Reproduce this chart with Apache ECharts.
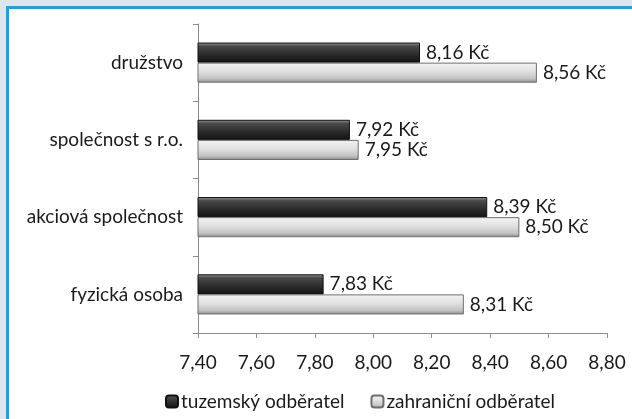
<!DOCTYPE html>
<html>
<head>
<meta charset="utf-8">
<script src="https://cdn.jsdelivr.net/npm/echarts@6/dist/echarts.min.js"></script>
<style>
  html, body { margin: 0; padding: 0; background: #dce6ec; }
  .frame {
    position: absolute; left: 6px; top: 6px; right: 0; bottom: 0;
    border-left: 3px solid #14a5e6; border-top: 3px solid #14a5e6;
    background: #fff;
  }
  #chart { position: absolute; left: 0; top: 0; width: 632px; height: 419px; }
</style>
</head>
<body>
<div class="frame"></div>
<div id="chart"></div>
<script>
// kategorie shora dolu
const categories = ['družstvo', 'společnost s r.o.', 'akciová společnost', 'fyzická osoba'];
const seriesNames = ['tuzemský odběratel', 'zahraniční odběratel'];
const domesticValues = [8.16, 7.92, 8.39, 7.83];
const foreignValues = [8.56, 7.95, 8.50, 8.31];
const xTicks = { min: 7.4, max: 8.8, interval: 0.2 };

const font = 'Lato, "Open Sans", sans-serif';
const fontSize = 19;
const fmt = (v) => Number(v).toFixed(2).replace('.', ',');

// tmavy a svetly "3D" gradient
const darkFill = new echarts.graphic.LinearGradient(0, 0, 0, 1, [
  { offset: 0, color: '#9a9a9a' },
  { offset: 0.18, color: '#4a4a4a' },
  { offset: 0.6, color: '#2b2b2b' },
  { offset: 1, color: '#131313' },
]);
const lightFill = new echarts.graphic.LinearGradient(0, 0, 0, 1, [
  { offset: 0, color: '#f4f4f4' },
  { offset: 0.45, color: '#e0e0e0' },
  { offset: 0.8, color: '#c2c2c2' },
  { offset: 1, color: '#8a8a8a' },
]);

const labelOption = {
  show: true,
  position: 'right',
  distance: 6,
  fontFamily: font,
  fontSize,
  color: '#1a1a1a',
  formatter: (p) => fmt(p.value) + ' Kč',
};

const myChart = echarts.init(document.getElementById('chart'));
myChart.setOption({
  animation: false,
  grid: { left: 198, right: 25, top: 24, bottom: 86 },
  legend: {
    bottom: 3,
    left: 160,
    itemWidth: 12,
    itemHeight: 12,
    itemGap: 26,
    textStyle: { fontFamily: font, fontSize, color: '#1a1a1a', padding: [0, 0, 0, -2] },
    data: seriesNames,
  },
  xAxis: {
    type: 'value',
    min: xTicks.min,
    max: xTicks.max,
    interval: xTicks.interval,
    axisLine: { show: true, lineStyle: { color: '#8c8c8c' } },
    axisTick: { show: true, length: 5, lineStyle: { color: '#8c8c8c' } },
    splitLine: { show: false },
    axisLabel: { fontFamily: font, fontSize, color: '#1a1a1a', margin: 20, formatter: fmt },
  },
  yAxis: {
    type: 'category',
    inverse: true,
    data: categories,
    axisLine: { show: true, lineStyle: { color: '#8c8c8c' } },
    axisTick: { show: true, length: 5, lineStyle: { color: '#8c8c8c' } },
    axisLabel: { fontFamily: font, fontSize, color: '#1a1a1a', margin: 15 },
  },
  series: [
    {
      name: seriesNames[0],
      type: 'bar',
      barGap: 0,
      barCategoryGap: '48%',
      data: domesticValues,
      itemStyle: { color: darkFill, borderColor: '#111', borderWidth: 1 },
      label: labelOption,
    },
    {
      name: seriesNames[1],
      type: 'bar',
      barGap: 0,
      barCategoryGap: '48%',
      data: foreignValues,
      itemStyle: { color: lightFill, borderColor: '#6e6e6e', borderWidth: 1 },
      label: labelOption,
    },
  ],
});
</script>
</body>
</html>
